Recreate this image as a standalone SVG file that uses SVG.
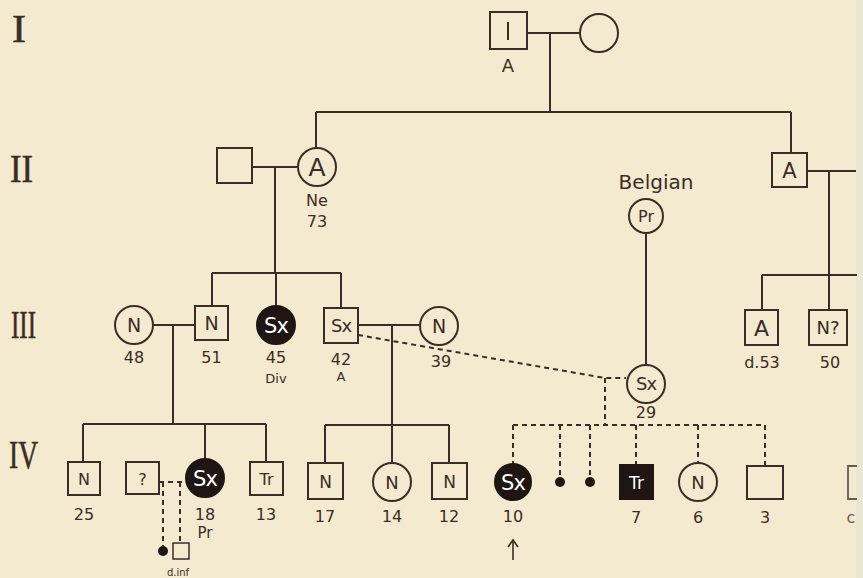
<svg xmlns="http://www.w3.org/2000/svg" width="863" height="578" viewBox="0 0 863 578">
<style>
.bg{fill:#f3eacf}
.sq,.ci{fill:none;stroke:#3b2c27;stroke-width:2}
.fill{fill:#1f1614;stroke:#1f1614;stroke-width:2}
.ln{fill:none;stroke:#3b2c27;stroke-width:2}
.dash{fill:none;stroke:#3b2c27;stroke-width:2;stroke-dasharray:5 4}
.dot{fill:#1f1614}
text{font-family:"DejaVu Sans","Liberation Sans",sans-serif;fill:#3b2c27;text-anchor:middle}
.in{font-size:19px}
.inb{font-size:21px}
.wt{fill:#ffffff}
.lb{font-size:16px}
.sm{font-size:13px}
.rn{font-family:"Liberation Serif","DejaVu Serif",serif;font-size:40px;text-anchor:start;stroke:#3b2c27;stroke-width:0.6}
</style>
<rect class="bg" x="0" y="0" width="863" height="578"/>
<rect x="856" y="0" width="7" height="578" fill="#ebe5d4"/>

<g id="generation-labels">
<text class="rn" x="12" y="42" textLength="14" lengthAdjust="spacingAndGlyphs">I</text>
<text class="rn" x="10" y="182" textLength="23" lengthAdjust="spacingAndGlyphs">II</text>
<text class="rn" x="11" y="338" textLength="25" lengthAdjust="spacingAndGlyphs">III</text>
<text class="rn" x="9" y="468" textLength="29" lengthAdjust="spacingAndGlyphs">IV</text>
</g>

<g id="connectors">
<line class="ln" x1="527" y1="33" x2="580" y2="33"/>
<line class="ln" x1="550" y1="33" x2="550" y2="112"/>
<line class="ln" x1="316" y1="112" x2="791" y2="112"/>
<line class="ln" x1="316" y1="112" x2="316" y2="148"/>
<line class="ln" x1="791" y1="112" x2="791" y2="153"/>
<line class="ln" x1="252" y1="167" x2="298" y2="167"/>
<line class="ln" x1="275" y1="167" x2="275" y2="273"/>
<line class="ln" x1="212" y1="273" x2="341" y2="273"/>
<line class="ln" x1="212" y1="273" x2="212" y2="306"/>
<line class="ln" x1="276" y1="273" x2="276" y2="306"/>
<line class="ln" x1="341" y1="273" x2="341" y2="308"/>
<line class="ln" x1="807" y1="171" x2="856" y2="171"/>
<line class="ln" x1="829" y1="171" x2="829" y2="310"/>
<line class="ln" x1="762" y1="275" x2="857" y2="275"/>
<line class="ln" x1="762" y1="275" x2="762" y2="310"/>
<line class="ln" x1="646" y1="233" x2="646" y2="364"/>
<line class="ln" x1="153" y1="325" x2="195" y2="325"/>
<line class="ln" x1="173" y1="325" x2="173" y2="424"/>
<line class="ln" x1="83" y1="424" x2="266" y2="424"/>
<line class="ln" x1="83" y1="424" x2="83" y2="462"/>
<line class="ln" x1="205" y1="424" x2="205" y2="459"/>
<line class="ln" x1="266" y1="424" x2="266" y2="462"/>
<line class="ln" x1="358" y1="325" x2="420" y2="325"/>
<line class="ln" x1="392" y1="325" x2="392" y2="425"/>
<line class="ln" x1="325" y1="425" x2="449" y2="425"/>
<line class="ln" x1="325" y1="425" x2="325" y2="463"/>
<line class="ln" x1="392" y1="425" x2="392" y2="463"/>
<line class="ln" x1="449" y1="425" x2="449" y2="463"/>
<path class="dash" d="M358 335 L605 378 L626 378"/>
<line class="dash" x1="605" y1="378" x2="605" y2="425"/>
<line class="dash" x1="513" y1="425" x2="765" y2="425"/>
<line class="dash" x1="513" y1="425" x2="513" y2="464"/>
<line class="dash" x1="560" y1="425" x2="560" y2="477"/>
<line class="dash" x1="590" y1="425" x2="590" y2="477"/>
<line class="dash" x1="636" y1="425" x2="636" y2="465"/>
<line class="dash" x1="698" y1="425" x2="698" y2="463"/>
<line class="dash" x1="765" y1="425" x2="765" y2="466"/>
<line class="dash" x1="159" y1="482" x2="186" y2="482"/>
<line class="dash" x1="163" y1="482" x2="163" y2="546"/>
<line class="dash" x1="180" y1="482" x2="180" y2="543"/>
</g>

<g id="I-1"><rect class="sq" x="490" y="12" width="37" height="37"/><line class="ln" x1="508" y1="22" x2="508" y2="40"/><text class="lb" x="508" y="72" style="font-size:18px">A</text></g>
<g id="I-2"><circle class="ci" cx="599" cy="33" r="19"/></g>

<g id="II-1"><rect class="sq" x="217" y="148" width="35" height="35"/></g>
<g id="II-2"><circle class="ci" cx="317" cy="167" r="19"/><text x="317" y="176" style="font-size:25px">A</text><text class="lb" x="317" y="206">Ne</text><text class="lb" x="317" y="227">73</text></g>
<g id="II-3"><rect class="sq" x="772" y="153" width="35" height="34"/><text x="789.5" y="178" style="font-size:21px">A</text></g>
<g id="Belgian"><text x="656" y="189" style="font-size:20px">Belgian</text><circle class="ci" cx="646" cy="216" r="17"/><text x="646" y="222" style="font-size:16px">Pr</text></g>

<g id="III-48"><circle class="ci" cx="134" cy="325" r="19"/><text class="in" x="134" y="332">N</text><text class="lb" x="134" y="363">48</text></g>
<g id="III-51"><rect class="sq" x="195" y="306" width="33" height="34"/><text class="in" x="211.5" y="330">N</text><text class="lb" x="211.5" y="363">51</text></g>
<g id="III-45"><circle class="fill" cx="276" cy="325" r="19"/><text class="inb wt" x="276" y="333" style="letter-spacing:-1px">Sx</text><text class="lb" x="276" y="363">45</text><text class="sm" x="276" y="383">Div</text></g>
<g id="III-42"><rect class="sq" x="324" y="308" width="34" height="35"/><text class="in" x="341" y="332" style="letter-spacing:-1px;font-size:18px">Sx</text><text class="lb" x="341" y="365">42</text><text class="sm" x="341" y="381">A</text></g>
<g id="III-39"><circle class="ci" cx="439" cy="326" r="19"/><text class="in" x="439" y="333">N</text><text class="lb" x="441" y="367">39</text></g>
<g id="III-29"><circle class="ci" cx="646" cy="384" r="19"/><text class="in" x="646" y="390" style="letter-spacing:-1px;font-size:18px">Sx</text><text class="lb" x="646" y="418">29</text></g>
<g id="III-d53"><rect class="sq" x="745" y="310" width="33" height="35"/><text x="761.5" y="336" style="font-size:22px">A</text><text class="lb" x="762" y="368">d.53</text></g>
<g id="III-50"><rect class="sq" x="809" y="310" width="38" height="35"/><text x="828" y="334" style="font-size:18px">N?</text><text class="lb" x="830" y="368">50</text></g>

<g id="IV-25"><rect class="sq" x="68" y="462" width="32" height="33"/><text class="in" x="84" y="485" style="font-size:16px">N</text><text class="lb" x="84" y="520">25</text></g>
<g id="IV-q"><rect class="sq" x="126" y="462" width="33" height="32"/><text class="in" x="142.5" y="485" style="font-size:16px">?</text></g>
<g id="IV-18"><circle class="fill" cx="205" cy="478" r="19"/><text class="inb wt" x="205" y="486" style="letter-spacing:-1px">Sx</text><text class="lb" x="205" y="520">18</text><text class="sm" x="205" y="538" style="font-size:15px">Pr</text></g>
<g id="IV-13"><rect class="sq" x="250" y="462" width="33" height="33"/><text class="in" x="266.5" y="485" style="font-size:16px">Tr</text><text class="lb" x="266" y="520">13</text></g>
<g id="IV-inf1"><circle class="dot" cx="163" cy="551" r="5"/></g>
<g id="IV-inf2"><rect class="sq" x="173" y="543" width="16" height="16" style="stroke-width:1.5"/><text x="178" y="576" style="font-size:10px">d.inf</text></g>

<g id="IV-17"><rect class="sq" x="308" y="463" width="35" height="36"/><text class="in" x="325.5" y="488" style="font-size:17px">N</text><text class="lb" x="325" y="522">17</text></g>
<g id="IV-14"><circle class="ci" cx="392" cy="482" r="19"/><text class="in" x="392" y="489" style="font-size:18px">N</text><text class="lb" x="392" y="522">14</text></g>
<g id="IV-12"><rect class="sq" x="432" y="463" width="35" height="36"/><text class="in" x="449.5" y="488" style="font-size:17px">N</text><text class="lb" x="449" y="522">12</text></g>
<g id="IV-10"><circle class="fill" cx="513" cy="482" r="18"/><text class="inb wt" x="513" y="490" style="letter-spacing:-1px">Sx</text><text class="lb" x="513" y="522">10</text>
<line class="ln" x1="513" y1="541" x2="513" y2="560" style="stroke-width:1.6"/><path class="ln" d="M508 547 L513 540 L518 547" style="stroke-width:1.6"/></g>
<g id="IV-d1"><circle class="dot" cx="560" cy="482" r="5"/></g>
<g id="IV-d2"><circle class="dot" cx="590" cy="482" r="5"/></g>
<g id="IV-7"><rect class="fill" x="620" y="465" width="33" height="34"/><text class="wt" x="636.5" y="489" style="font-size:17px">Tr</text><text class="lb" x="636" y="523">7</text></g>
<g id="IV-6"><circle class="ci" cx="698" cy="482" r="19"/><text class="in" x="698" y="489" style="font-size:18px">N</text><text class="lb" x="698" y="523">6</text></g>
<g id="IV-3"><rect class="sq" x="747" y="466" width="36" height="33"/><text class="lb" x="765" y="523">3</text></g>
<g id="IV-edge"><path d="M857 466 H848 V499 H857" fill="none" stroke="#6a5a52" stroke-width="1.8"/><text class="lb" x="851" y="523" style="fill:#6a5a52">c</text></g>
</svg>
